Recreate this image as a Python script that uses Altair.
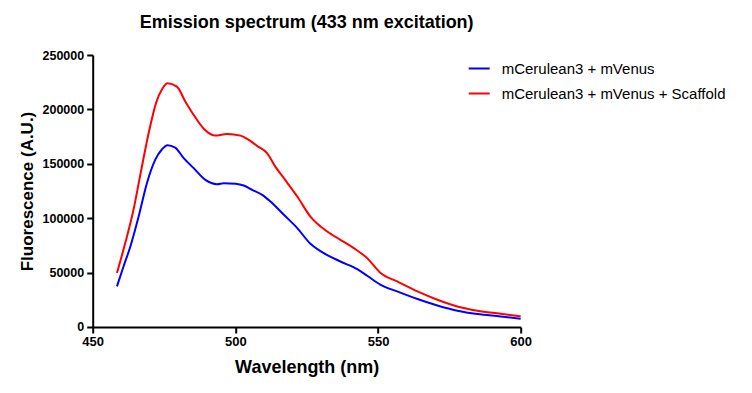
import altair as alt
import pandas as pd

series_names = ["mCerulean3 + mVenus", "mCerulean3 + mVenus + Scaffold"]
series_colors = ["#0000FF", "#FF0000"]

blue_wl = [458.5, 460.8, 463.2, 466.1, 469.0, 471.9, 474.3, 476.2, 478.9, 481.9, 485.4,
           489.5, 493.6, 495.9, 500.1, 502.9, 505.9, 509.4, 512.3, 517.0, 521.7, 526.3,
           531.0, 536.8, 542.7, 546.2, 550.9, 556.7, 563.8, 570.8, 577.8, 584.8, 593.0, 600]
blue_val = [37300, 55600, 74000, 101500, 132200, 153600, 163400, 167100, 164900, 155200, 146000,
            135200, 131300, 132200, 131600, 130000, 126100, 121500, 115300, 103100, 90900, 76500,
            67900, 60200, 53200, 47100, 38800, 32700, 25700, 19800, 15000, 11900, 9700, 7600]

red_wl = [458.5, 461.4, 464.3, 466.7, 469.6, 472.3, 474.3, 476.2, 479.5, 482.5, 485.4,
          489.1, 493.0, 497.1, 501.8, 504.7, 507.6, 511.1, 514.0, 517.0, 521.7, 526.3,
          532.2, 536.8, 541.5, 546.2, 550.9, 556.7, 563.8, 570.8, 577.8, 584.8, 593.0, 600]
red_val = [49600, 77100, 107700, 140000, 178000, 206700, 218500, 224000, 220900, 207100, 194900,
           181800, 175900, 177500, 175900, 172000, 166500, 159800, 147400, 136800, 119900, 101500,
           87800, 80100, 72500, 63300, 49600, 41900, 32700, 25100, 18900, 15000, 12200, 9700]

x_ticks = [450, 500, 550, 600]
y_ticks = [0, 50000, 100000, 150000, 200000, 250000]

df = pd.concat([
    pd.DataFrame({"wl": blue_wl, "val": blue_val, "series": series_names[0], "order": range(len(blue_wl))}),
    pd.DataFrame({"wl": red_wl, "val": red_val, "series": series_names[1], "order": range(len(red_wl))}),
])

FONT = "Liberation Sans"

chart = alt.Chart(df).mark_line(strokeWidth=2, interpolate="monotone").encode(
    x=alt.X("wl:Q", scale=alt.Scale(domain=[450, 600], nice=False, zero=False),
            axis=alt.Axis(values=x_ticks, title="Wavelength (nm)", format="d",
                          titleX=214, titleY=46, titleBaseline="alphabetic", titleFontSize=18,
                          titleAlign="center", labelPadding=3, labelFlush=False,
                          labelFontSize=13)),
    y=alt.Y("val:Q", scale=alt.Scale(domain=[0, 250000], nice=False),
            axis=alt.Axis(values=y_ticks, title="Fluorescence (A.U.)", format="d",
                          titleX=-60, titleY=136, titleAngle=-90, titleBaseline="alphabetic",
                          titleAlign="center", labelPadding=3, labelFlush=False,
                          labelFontSize=12.5)),
    color=alt.Color("series:N", scale=alt.Scale(domain=series_names, range=series_colors),
                    legend=alt.Legend(title=None, orient="none", legendX=375, legendY=2,
                                      symbolType="stroke", symbolSize=441, symbolStrokeWidth=2,
                                      labelFontSize=15, labelFont=FONT, labelColor="#000000",
                                      labelOffset=11, rowPadding=5, padding=0, labelLimit=400)),
    order="order:Q",
).properties(
    width=428,
    height=272,
    title=alt.TitleParams("Emission spectrum (433 nm excitation)", font=FONT, fontSize=18,
                          fontWeight="bold", color="#000000", anchor="middle", offset=17),
    autosize=alt.AutoSizeParams(type="none"),
    padding={"left": 84.7, "top": 47, "right": 223, "bottom": 58},
).configure_view(stroke=None).configure_axis(
    grid=False, domainColor="#000000", domainWidth=2, tickColor="#000000", tickWidth=2,
    tickSize=6, labelFont=FONT, labelFontSize=12, labelFontWeight="bold", labelColor="#000000",
    titleFont=FONT, titleFontSize=17, titleFontWeight="bold", titleColor="#000000",
)

chart.save("out.html", embed_options={"renderer": "svg", "actions": False})
